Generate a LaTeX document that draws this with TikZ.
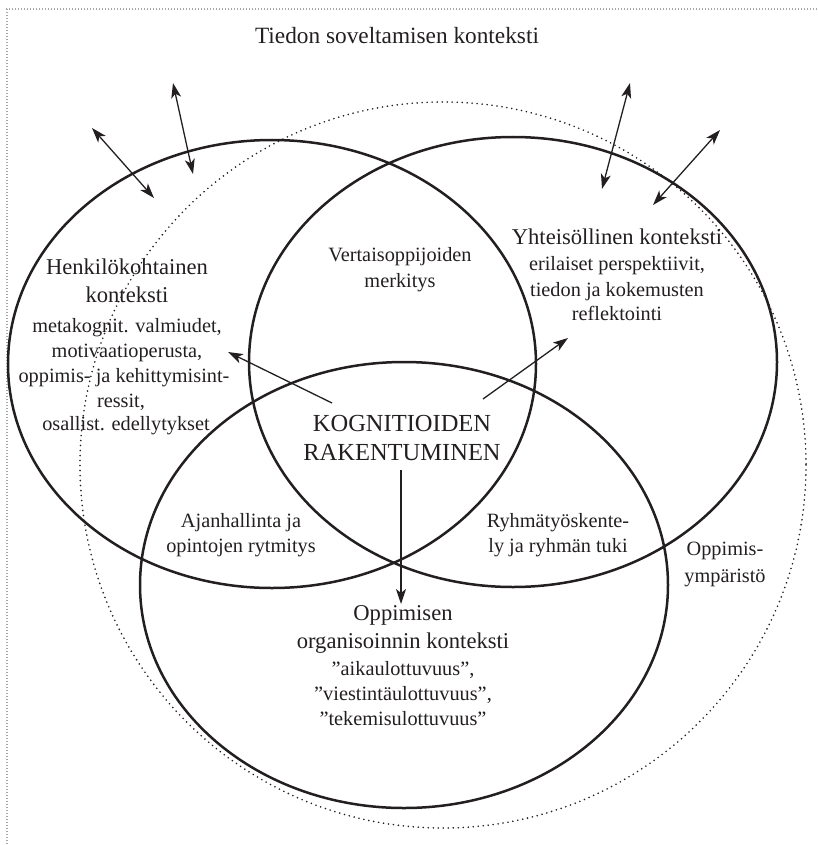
\documentclass[tikz,border=0pt]{standalone}
\usepackage{fontspec}
\setmainfont{Liberation Serif}
\usetikzlibrary{arrows.meta}
\definecolor{ink}{HTML}{231F20}
\begin{document}
\begin{tikzpicture}[x=1pt,y=-1pt,
  ring/.style={draw=ink, line width=2.5pt},
  envring/.style={draw=ink, line width=1.8pt, line cap=round, dash pattern=on 0pt off 5pt},
  frameline/.style={draw=gray!70, line width=1.2pt, dash pattern=on 1.3pt off 1.7pt},
  conn/.style={draw=ink, line width=1.3pt, -{Stealth[length=15pt,width=10pt,inset=4pt]}},
  dconn/.style={draw=ink, line width=1.3pt, {Stealth[length=15pt,width=10pt,inset=4pt]}-{Stealth[length=15pt,width=10pt,inset=4pt]}},
  bigtxt/.style={font=\fontsize{22.6}{28}\selectfont, text=ink, inner sep=0pt, anchor=base},
  captxt/.style={font=\fontsize{24.5}{29}\selectfont, text=ink, inner sep=0pt, anchor=base},
  titletxt/.style={font=\fontsize{23.3}{28}\selectfont, text=ink, inner sep=0pt, anchor=base},
  smalltxt/.style={font=\fontsize{20.3}{25}\selectfont, text=ink, inner sep=0pt, anchor=base},
]
\useasboundingbox (0,0) rectangle (817,845);
% frame
\coordinate (fTL) at (7,9);
\coordinate (fTR) at (817,9);
\coordinate (fBL) at (7,845);
\draw[frameline] (fTR) -- (fTL) -- (fBL);
% learning environment
\draw[envring] (443,465) circle [radius=363];
% three contexts
\draw[ring] (272,364) ellipse [x radius=264, y radius=224];
\draw[ring] (513,362) ellipse [x radius=264, y radius=225];
\draw[ring] (404,585) ellipse [x radius=264, y radius=223];

% texts
\node[titletxt] (title) at (397,44) {Tiedon soveltamisen konteksti};

\node[bigtxt] (hk1) at (127,274) {Henkilökohtainen};
\node[bigtxt] (hk2) at (127,302) {konteksti};
\node[smalltxt] (hk3) at (127,332) {metakognit. valmiudet,};
\node[smalltxt] (hk4) at (127,357) {motivaatioperusta,};
\node[smalltxt] (hk5) at (124,382) {oppimis- ja kehittymisint-};
\node[smalltxt] (hk6) at (121,407) {ressit,};
\node[smalltxt] (hk7) at (126,430) {osallist. edellytykset};

\node[smalltxt] (vo1) at (400,261) {Vertaisoppijoiden};
\node[smalltxt] (vo2) at (400,287) {merkitys};

\node[bigtxt] (yk1) at (617,244) {Yhteisöllinen konteksti};
\node[smalltxt] (yk2) at (617,270) {erilaiset perspektiivit,};
\node[smalltxt] (yk3) at (617,296) {tiedon ja kokemusten};
\node[smalltxt] (yk4) at (617,320) {reflektointi};

\node[captxt] (kr1) at (402,431) {KOGNITIOIDEN};
\node[captxt] (kr2) at (402,460) {RAKENTUMINEN};

\node[smalltxt] (aj1) at (241,527) {Ajanhallinta ja};
\node[smalltxt] (aj2) at (241,552) {opintojen rytmitys};

\node[smalltxt] (ry1) at (558,527) {Ryhmätyöskente-};
\node[smalltxt] (ry2) at (558,552) {ly ja ryhmän tuki};

\node[smalltxt] (oy1) at (725,555) {Oppimis-};
\node[smalltxt] (oy2) at (725,582) {ympäristö};

\node[bigtxt] (oo1) at (403,620) {Oppimisen};
\node[bigtxt] (oo2) at (403,648) {organisoinnin konteksti};
\node[smalltxt] (oo3) at (403,675) {”aikaulottuvuus”,};
\node[smalltxt] (oo4) at (403,700) {”viestintäulottuvuus”,};
\node[smalltxt] (oo5) at (403,725) {”tekemisulottuvuus”};

% arrows
\coordinate (a1s) at (92,128);
\coordinate (a1e) at (154,198);
\coordinate (a2s) at (173,83);
\coordinate (a2e) at (193,174);
\coordinate (a3s) at (630,83);
\coordinate (a3e) at (602,189);
\coordinate (a4s) at (720,130);
\coordinate (a4e) at (653,205);
\draw[dconn] (a1s) -- (a1e);
\draw[dconn] (a2s) -- (a2e);
\draw[dconn] (a3s) -- (a3e);
\draw[dconn] (a4s) -- (a4e);

\coordinate (k1s) at (332,403);
\coordinate (k1e) at (228,352);
\coordinate (k2s) at (483,399);
\coordinate (k2e) at (568,338);
\coordinate (k3s) at (401,470);
\coordinate (k3e) at (401,604);
\draw[conn] (k1s) -- (k1e);
\draw[conn] (k2s) -- (k2e);
\draw[conn] (k3s) -- (k3e);
\end{tikzpicture}
\end{document}
